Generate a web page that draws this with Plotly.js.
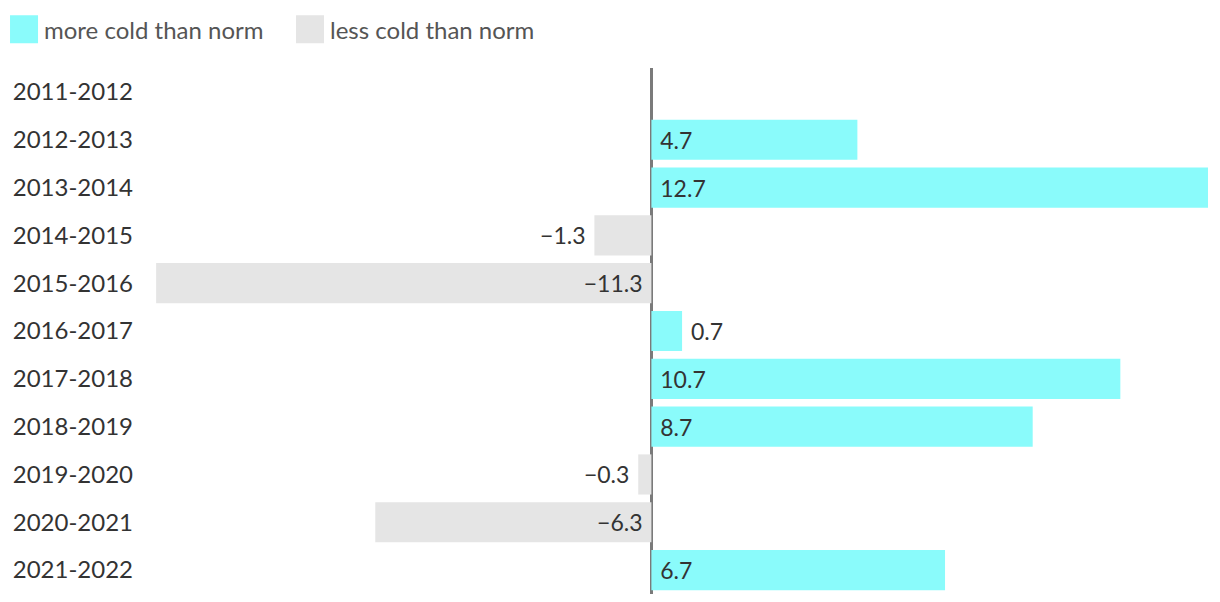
<!DOCTYPE html>
<html>
<head>
<meta charset="utf-8">
<script src="https://cdn.plot.ly/plotly-3.0.1.min.js"></script>
<style>
  html, body { margin: 0; padding: 0; background: #fff; }
  #chart { width: 1220px; height: 602px; }
</style>
</head>
<body>
<div id="chart"></div>
<script>
// winter seasons and how much colder than the norm each one was
const seasons = ["2011-2012", "2012-2013", "2013-2014", "2014-2015", "2015-2016", "2016-2017",
                 "2017-2018", "2018-2019", "2019-2020", "2020-2021", "2021-2022"];
const anomaly = [null, 4.7, 12.7, -1.3, -11.3, 0.7, 10.7, 8.7, -0.3, -6.3, 6.7];
const seriesNames = ["more cold than norm", "less cold than norm"];

const NBSP = "\u00a0";
const FONT = "Lato, sans-serif";

function label(v) {
  if (v === null) return "";
  let s = Math.abs(v).toFixed(1);
  return v < 0 ? "\u2212" + s : s;
}

// small bars get their label outside
function textPos(v) {
  return (v !== null && Math.abs(v) < 2) ? "outside" : "inside";
}

// a bit of breathing room between bar edge and label
function padded(v) {
  if (v === null) return "";
  return v < 0 ? label(v) + NBSP : NBSP + label(v);
}

function makeTrace(sign, name, color) {
  let xs = anomaly.map(v => (v !== null && Math.sign(v) === sign) ? v : null);
  let tf = {family: FONT, size: 23, color: "#333"};
  return {
    type: "bar",
    orientation: "h",
    name: name,
    y: seasons,
    x: xs,
    text: xs.map(padded),
    textposition: xs.map(textPos),
    insidetextanchor: "start",
    constraintext: "none",
    cliponaxis: false,
    textfont: tf,
    insidetextfont: tf,
    outsidetextfont: tf,
    marker: {color: color},
    hoverinfo: "none"
  };
}

let data = [
  makeTrace(1, seriesNames[0], "#8afbfb"),
  makeTrace(-1, seriesNames[1], "#e5e5e5")
];

let layout = {
  width: 1220,
  height: 602,
  margin: {l: 150, r: 12, t: 68, b: 8},
  paper_bgcolor: "#fff",
  plot_bgcolor: "#fff",
  barmode: "relative",
  bargap: 0.16,
  font: {family: FONT, size: 24, color: "#333"},
  showlegend: true,
  legend: {
    orientation: "h",
    xref: "container", yref: "container",
    x: 0.0033, y: 0.988, xanchor: "left", yanchor: "top",
    font: {family: FONT, size: 24, color: "#555"},
    entrywidth: 241,
    traceorder: "normal",
    itemclick: false
  },
  xaxis: {
    range: [-11.44, 12.7],
    showgrid: false,
    showticklabels: false,
    zeroline: true,
    zerolinecolor: "#7a7a7a",
    zerolinewidth: 3,
    layer: "above traces",
    fixedrange: true
  },
  yaxis: {
    type: "category",
    autorange: "reversed",
    showgrid: false,
    zeroline: false,
    ticks: "",
    ticklabelstandoff: 16,
    tickfont: {family: FONT, size: 24, color: "#333"},
    fixedrange: true
  }
};

Plotly.newPlot("chart", data, layout, {displayModeBar: false, staticPlot: true}).then(gd => {
  // bigger legend swatches
  gd.querySelectorAll(".legendpoints path").forEach(p => p.setAttribute("d", "M14,14H-14V-14H14Z"));
});
</script>
</body>
</html>
